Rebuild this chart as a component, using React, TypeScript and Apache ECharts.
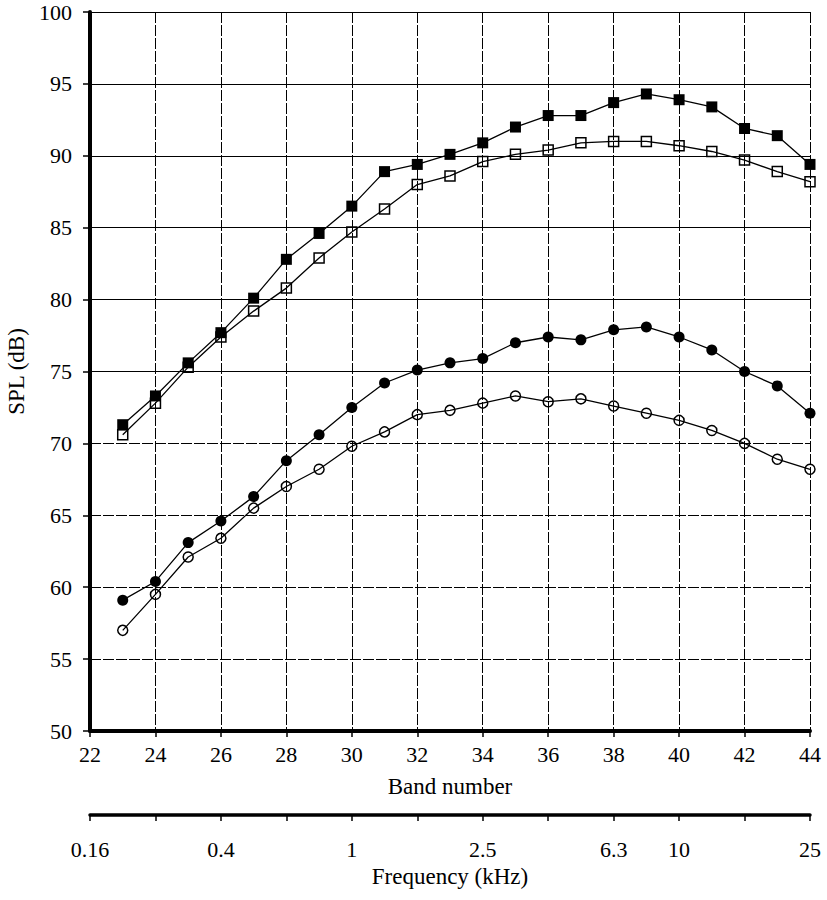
import React, { useEffect, useRef } from "react";
import * as echarts from "echarts";

const bands = [23, 24, 25, 26, 27, 28, 29, 30, 31, 32, 33, 34, 35, 36, 37, 38, 39, 40, 41, 42, 43, 44];
const filledSquares = [71.3, 73.3, 75.6, 77.7, 80.1, 82.8, 84.6, 86.5, 88.9, 89.4, 90.1, 90.9, 92.0, 92.8, 92.8, 93.7, 94.3, 93.9, 93.4, 91.9, 91.4, 89.4];
const hollowSquares = [70.6, 72.8, 75.3, 77.4, 79.2, 80.8, 82.9, 84.7, 86.3, 88.0, 88.6, 89.6, 90.1, 90.4, 90.9, 91.0, 91.0, 90.7, 90.3, 89.7, 88.9, 88.2];
const filledCircles = [59.1, 60.4, 63.1, 64.6, 66.3, 68.8, 70.6, 72.5, 74.2, 75.1, 75.6, 75.9, 77.0, 77.4, 77.2, 77.9, 78.1, 77.4, 76.5, 75.0, 74.0, 72.1];
const hollowCircles = [57.0, 59.5, 62.1, 63.4, 65.5, 67.0, 68.2, 69.8, 70.8, 72.0, 72.3, 72.8, 73.3, 72.9, 73.1, 72.6, 72.1, 71.6, 70.9, 70.0, 68.9, 68.2];

const freqBands = [22, 26, 30, 34, 38, 40, 44];
const freqLabels = ["0.16", "0.4", "1", "2.5", "6.3", "10", "25"];
const solidGridValues = [75, 80, 85, 90, 95, 100];

const FONT = "'Liberation Serif', 'DejaVu Serif', serif";
const LABEL_SIZE = 22;
const NAME_SIZE = 23;

export default function App() {
  const ref = useRef<HTMLDivElement>(null);
  useEffect(() => {
    if (!ref.current) return;
    const chart = echarts.init(ref.current, null, { renderer: "svg" });
    const pair = (vals: number[]) => bands.map((b, i) => [b, vals[i]]);
    const lineStyle = { color: "#000", width: 1.3 };
    const hollow = { color: "rgba(255,255,255,0)", borderColor: "#000", borderWidth: 1.5 };
    const filled = { color: "#000", borderColor: "#000", borderWidth: 0 };
    const nameStyle = { fontFamily: FONT, fontSize: NAME_SIZE, color: "#000" };
    chart.setOption({
      animation: false,
      backgroundColor: "#fff",
      textStyle: { fontFamily: FONT, color: "#000" },
      grid: { left: 90, right: 17, top: 12, bottom: 169, containLabel: false, outerBoundsMode: "none" },
      xAxis: [
        {
          type: "value",
          min: 22,
          max: 44,
          interval: 2,
          position: "bottom",
          name: "Band number",
          nameLocation: "middle",
          nameGap: 44,
          nameTextStyle: nameStyle,
          axisLine: { show: true, onZero: false, lineStyle: { color: "#000", width: 4 } },
          axisTick: { show: true, length: 6, lineStyle: { color: "#000", width: 1.5 } },
          axisLabel: { fontFamily: FONT, fontSize: LABEL_SIZE, color: "#000", margin: 12 },
          splitLine: { show: true, lineStyle: { color: "#000", width: 1, type: [11, 2] } },
        },
        {
          type: "value",
          min: 22,
          max: 44,
          interval: 2,
          position: "bottom",
          offset: 84,
          name: "Frequency (kHz)",
          nameLocation: "middle",
          nameGap: 50,
          nameTextStyle: nameStyle,
          axisLine: { show: true, onZero: false, lineStyle: { color: "#000", width: 3.5 } },
          axisTick: { show: true, length: 6, lineStyle: { color: "#000", width: 1.5 } },
          axisLabel: {
            fontFamily: FONT,
            fontSize: LABEL_SIZE,
            color: "#000",
            margin: 23,
            formatter: (v: number) => {
              const i = freqBands.indexOf(v);
              return i >= 0 ? freqLabels[i] : "";
            },
          },
          splitLine: { show: false },
        },
      ],
      yAxis: {
        type: "value",
        min: 50,
        max: 100,
        interval: 5,
        name: "SPL (dB)",
        nameLocation: "middle",
        nameGap: 60,
        nameTextStyle: nameStyle,
        axisLine: { show: true, onZero: false, lineStyle: { color: "#000", width: 4 } },
        axisTick: { show: true, length: 7, lineStyle: { color: "#000", width: 1.5 } },
        axisLabel: { fontFamily: FONT, fontSize: LABEL_SIZE, lineHeight: 20, color: "#000", margin: 18 },
        splitLine: { show: true, lineStyle: { color: "#000", width: 1, type: [11, 2] } },
      },
      series: [
        {
          type: "line",
          data: pair(filledSquares),
          symbol: "rect",
          symbolSize: 11,
          lineStyle,
          itemStyle: filled,
          markLine: {
            silent: true,
            symbol: "none",
            label: { show: false },
            lineStyle: { type: "solid", color: "#000", width: 1 },
            data: solidGridValues.map((v) => ({ yAxis: v })),
          },
        },
        {
          type: "line",
          data: pair(hollowSquares),
          symbol: "rect",
          symbolSize: 10,
          lineStyle,
          itemStyle: hollow,
        },
        {
          type: "line",
          data: pair(filledCircles),
          symbol: "circle",
          symbolSize: 11,
          lineStyle,
          itemStyle: filled,
        },
        {
          type: "line",
          data: pair(hollowCircles),
          symbol: "circle",
          symbolSize: 10,
          lineStyle,
          itemStyle: hollow,
        },
      ],
    });
    return () => chart.dispose();
  }, []);
  return (
    <div
      ref={ref}
      style={{ position: "fixed", left: 0, top: 0, width: 827, height: 900, background: "#fff" }}
    />
  );
}
